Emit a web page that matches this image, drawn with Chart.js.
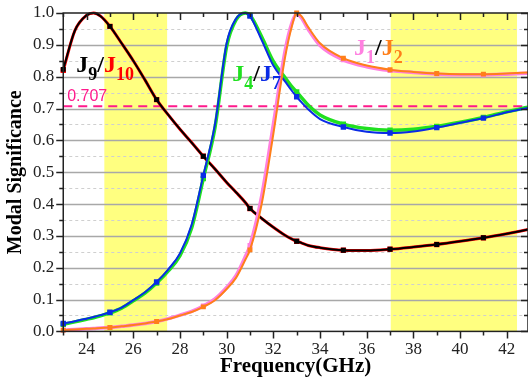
<!DOCTYPE html>
<html>
<head>
<meta charset="utf-8">
<script src="https://cdn.jsdelivr.net/npm/chart.js@4"></script>
<style>
  html, body { margin: 0; padding: 0; background: #fff; }
  #wrap { width: 528px; height: 381px; position: relative; }
</style>
</head>
<body>
<div id="wrap"><canvas id="chartModal"></canvas></div>
<script>
// Frecuencias (GHz)
const freq = [23, 23.5, 24, 24.3, 24.6, 25, 25.5, 26, 26.5, 27, 27.5, 28, 28.5, 29, 29.5, 30, 30.4, 30.8, 31, 31.5, 32, 32.5, 32.8, 33, 33.2, 33.5, 34, 35, 36, 37, 38, 39, 40, 41, 42, 42.91];

// Modal significance por modo
const j9  = [0.823, 0.945, 0.993, 1.0, 0.99, 0.958, 0.905, 0.85, 0.79, 0.728, 0.68, 0.635, 0.593, 0.55, 0.51, 0.468, 0.437, 0.405, 0.386, 0.355, 0.327, 0.302, 0.29, 0.283, 0.278, 0.27, 0.263, 0.255, 0.254, 0.258, 0.265, 0.273, 0.283, 0.294, 0.307, 0.32];
const j10 = [0.82, 0.945, 0.993, 1.0, 0.99, 0.958, 0.905, 0.85, 0.79, 0.728, 0.68, 0.635, 0.593, 0.55, 0.51, 0.468, 0.437, 0.405, 0.386, 0.355, 0.327, 0.302, 0.29, 0.283, 0.278, 0.27, 0.263, 0.255, 0.254, 0.258, 0.265, 0.273, 0.283, 0.294, 0.307, 0.32];
const j4  = [0.022, 0.03, 0.038, 0.043, 0.049, 0.058, 0.073, 0.096, 0.12, 0.152, 0.19, 0.238, 0.325, 0.48, 0.64, 0.895, 0.978, 1.0, 0.993, 0.925, 0.848, 0.797, 0.768, 0.752, 0.735, 0.71, 0.68, 0.651, 0.637, 0.632, 0.635, 0.644, 0.657, 0.672, 0.69, 0.704];
const j7  = [0.025, 0.032, 0.04, 0.045, 0.051, 0.06, 0.075, 0.098, 0.123, 0.155, 0.195, 0.245, 0.335, 0.49, 0.65, 0.905, 0.982, 1.0, 0.99, 0.915, 0.835, 0.785, 0.755, 0.737, 0.72, 0.697, 0.667, 0.642, 0.627, 0.623, 0.628, 0.64, 0.655, 0.67, 0.688, 0.702];
const j1  = [0.004, 0.006, 0.008, 0.009, 0.011, 0.012, 0.016, 0.02, 0.025, 0.031, 0.04, 0.051, 0.063, 0.08, 0.102, 0.138, 0.175, 0.235, 0.27, 0.425, 0.65, 0.88, 0.97, 0.998, 0.985, 0.948, 0.898, 0.853, 0.831, 0.819, 0.813, 0.808, 0.806, 0.806, 0.808, 0.811];
const j2  = [0.004, 0.006, 0.008, 0.009, 0.011, 0.012, 0.016, 0.02, 0.025, 0.031, 0.039, 0.05, 0.061, 0.077, 0.098, 0.133, 0.168, 0.225, 0.256, 0.4, 0.62, 0.86, 0.96, 1.0, 0.99, 0.955, 0.905, 0.858, 0.835, 0.822, 0.815, 0.81, 0.808, 0.808, 0.81, 0.813];

// Ticks y bandas
const xTicks = [24, 26, 28, 30, 32, 34, 36, 38, 40, 42];
const bands = [[24.76, 27.45], [37.03, 42.44]];
const threshold = 0.707;

const serif = "'Liberation Serif', 'Times New Roman', serif";

function toPoints(ys) {
    return freq.map((f, i) => ({ x: f, y: ys[i] }));
}

// Marcadores solo en las frecuencias impares (23, 25, ... 41)
function markerRadius(r) {
    return ctx => {
        const x = ctx.raw ? ctx.raw.x : 0;
        return (Number.isInteger(x) && x % 2 === 1 && x <= 41) ? r : 0;
    };
}

function serie(label, ys, color, width, r) {
    return {
        label: label,
        data: toPoints(ys),
        borderColor: color,
        backgroundColor: color,
        borderWidth: width,
        pointStyle: 'rect',
        pointRadius: markerRadius(r),
        pointBorderWidth: 0,
        cubicInterpolationMode: 'monotone',
        clip: 4
    };
}

// Plugin para bandas, rejilla, marco y etiquetas
const decorPlugin = {
    id: 'decor',
    beforeDatasetsDraw(chart) {
        const { ctx, chartArea: a, scales: { x, y } } = chart;
        ctx.save();
        // bandas amarillas
        ctx.fillStyle = 'rgb(255,255,128)';
        bands.forEach(([b0, b1]) => {
            const x0 = x.getPixelForValue(b0);
            const x1 = x.getPixelForValue(b1);
            ctx.fillRect(x0, a.top, x1 - x0, a.bottom - a.top);
        });
        // rejilla horizontal
        for (let i = 1; i < 20; i++) {
            const py = Math.round(y.getPixelForValue(i * 0.05)) + 0.5;
            ctx.beginPath();
            if (i % 2 === 0) {
                ctx.setLineDash([]);
                ctx.strokeStyle = '#a8a8a8';
                ctx.lineWidth = 1.6;
            } else {
                ctx.setLineDash([3, 3]);
                ctx.strokeStyle = '#cfcfcf';
                ctx.lineWidth = 1;
            }
            ctx.moveTo(a.left, py);
            ctx.lineTo(a.right, py);
            ctx.stroke();
        }
        // línea 0.707
        const ty = y.getPixelForValue(threshold);
        ctx.setLineDash([9, 6]);
        ctx.strokeStyle = '#ff1a8c';
        ctx.lineWidth = 2;
        ctx.beginPath();
        ctx.moveTo(a.left, ty);
        ctx.lineTo(a.right, ty);
        ctx.stroke();
        ctx.restore();
    },
    afterDraw(chart) {
        const { ctx, chartArea: a, scales: { x, y } } = chart;
        ctx.save();
        ctx.strokeStyle = '#222';
        ctx.lineWidth = 1.5;
        ctx.setLineDash([]);
        ctx.strokeRect(a.left, a.top, a.right - a.left, a.bottom - a.top);

        // marcas de los ejes
        ctx.beginPath();
        for (let f = 23; f <= 42; f++) {
            const px = Math.round(x.getPixelForValue(f)) + 0.5;
            const len = f % 2 === 0 ? 7 : 4;
            ctx.moveTo(px, a.bottom); ctx.lineTo(px, a.bottom + len);
            ctx.moveTo(px, a.top); ctx.lineTo(px, a.top + len);
        }
        for (let i = 0; i <= 20; i++) {
            const py = Math.round(y.getPixelForValue(i * 0.05)) + 0.5;
            const len = i % 2 === 0 ? 7 : 4;
            ctx.moveTo(a.left, py); ctx.lineTo(a.left - len, py);
            ctx.moveTo(a.right, py); ctx.lineTo(a.right - len, py);
        }
        ctx.stroke();

        // etiqueta 0.707
        ctx.fillStyle = '#ff1a8c';
        ctx.font = "16px 'Liberation Sans', Arial, sans-serif";
        ctx.textBaseline = 'alphabetic';
        ctx.fillText('0.707', x.getPixelForValue(23.17), y.getPixelForValue(0.725));

        // etiquetas de modos
        drawModeLabel(ctx, x.getPixelForValue(23.56), y.getPixelForValue(0.816),
            [['9', '#000'], ['10', '#ff0000']]);
        drawModeLabel(ctx, x.getPixelForValue(30.24), y.getPixelForValue(0.788),
            [['4', '#20e020'], ['7', '#0a2be6']]);
        drawModeLabel(ctx, x.getPixelForValue(35.46), y.getPixelForValue(0.867),
            [['1', '#ff80e0'], ['2', '#ff7f1a']]);
        ctx.restore();
    }
};

function drawModeLabel(ctx, px, py, parts) {
    const big = "bold 24px " + serif;
    const small = "bold 18px " + serif;
    let cx = px;
    parts.forEach(([sub, color], i) => {
        if (i > 0) {
            ctx.font = big;
            ctx.fillStyle = '#000';
            ctx.fillText('/', cx, py);
            cx += ctx.measureText('/').width;
        }
        ctx.fillStyle = color;
        ctx.font = big;
        ctx.fillText('J', cx, py);
        cx += ctx.measureText('J').width;
        ctx.font = small;
        ctx.fillText(sub, cx, py + 8);
        cx += ctx.measureText(sub).width;
    });
}

const canvas = document.getElementById('chartModal');
new Chart(canvas.getContext('2d'), {
    type: 'line',
    data: {
        datasets: [
            serie('J2', j2, '#ff7f1a', 2, 3.5),
            serie('J1', j1, '#ff80e0', 3.5, 3.5),
            serie('J7', j7, '#0a2be6', 2, 3.8),
            serie('J4', j4, '#20e020', 3.5, 3.8),
            serie('J9', j9, '#000000', 2, 3.5),
            serie('J10', j10, '#ff0000', 3, 3.8)
        ]
    },
    options: {
        responsive: true,
        maintainAspectRatio: false,
        animation: false,
        layout: { autoPadding: false, padding: { left: 0, top: 13, right: 0, bottom: 0 } },
        plugins: {
            legend: { display: false },
            tooltip: { enabled: false }
        },
        scales: {
            x: {
                type: 'linear',
                min: 23,
                max: 42.91,
                afterBuildTicks: scale => { scale.ticks = xTicks.map(v => ({ value: v })); },
                afterFit: scale => { scale.paddingLeft = 0; scale.paddingRight = 0; },
                grid: { display: false, drawTicks: false },
                border: { display: false },
                ticks: {
                    padding: 8,
                    color: '#222',
                    font: { family: serif, size: 17 },
                    maxRotation: 0,
                    callback: v => v
                },
                title: {
                    display: true,
                    text: 'Frequency(GHz)',
                    color: '#000',
                    font: { family: serif, size: 21, weight: 'bold' },
                    padding: { top: -14, bottom: 2 }
                }
            },
            y: {
                min: 0,
                max: 1,
                afterFit: scale => { scale.paddingTop = 0; scale.paddingBottom = 0; },
                grid: { display: false, drawTicks: false },
                border: { display: false },
                ticks: {
                    stepSize: 0.1,
                    padding: 9,
                    color: '#222',
                    font: { family: serif, size: 17 },
                    callback: v => v.toFixed(1)
                },
                title: {
                    display: true,
                    text: 'Modal Significance',
                    color: '#000',
                    font: { family: serif, size: 20, weight: 'bold' },
                    padding: { top: 4, bottom: -4 }
                }
            }
        }
    },
    plugins: [decorPlugin]
});
</script>
</body>
</html>
